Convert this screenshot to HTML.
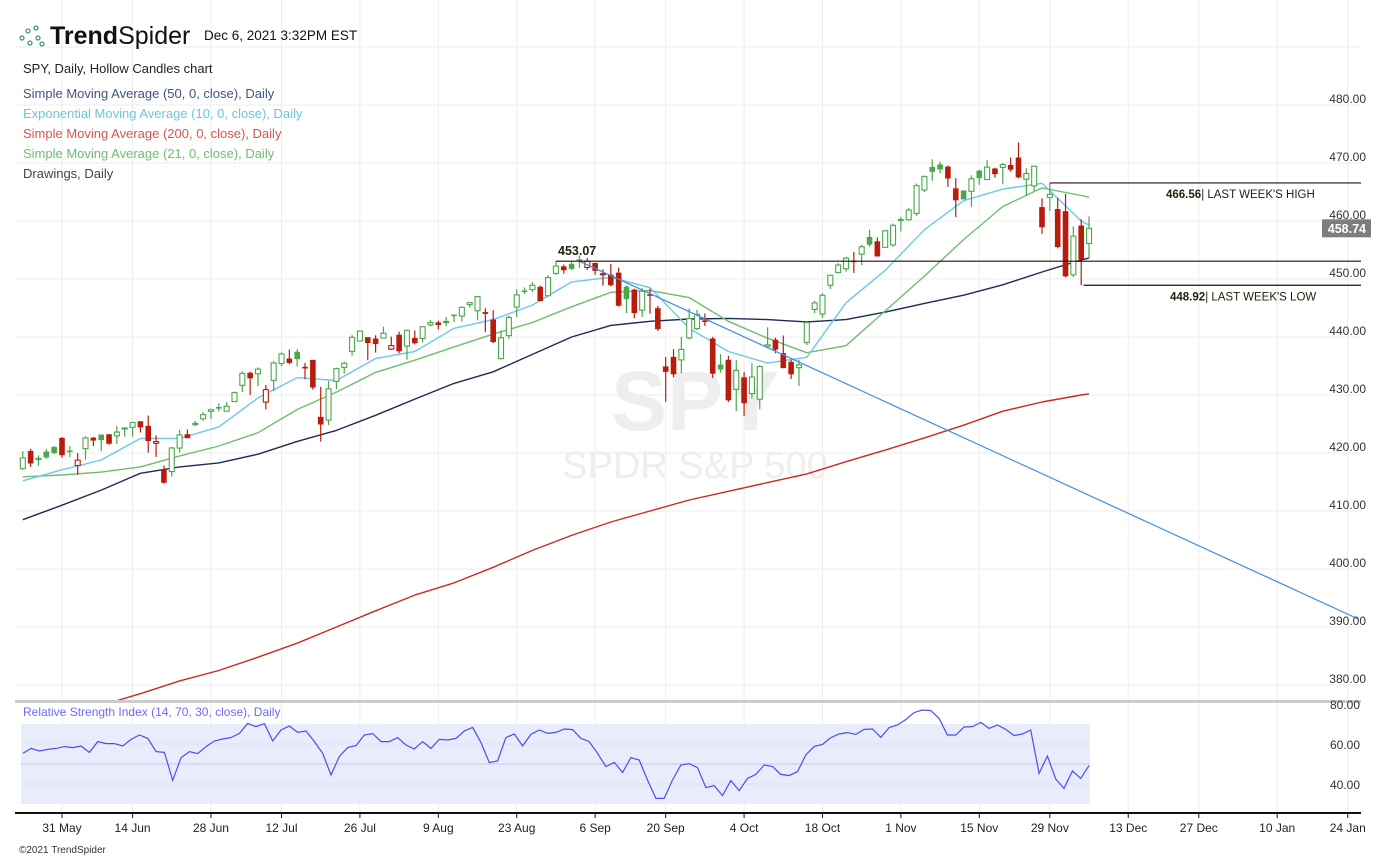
<!DOCTYPE html>
<html><head><meta charset="utf-8">
<style>
html,body{margin:0;padding:0;background:#fff;}
body{width:1391px;height:859px;overflow:hidden;font-family:"Liberation Sans",sans-serif;}
svg text{font-family:"Liberation Sans",sans-serif;}
</style></head>
<body>
<svg id="chart" width="1391" height="859" viewBox="0 0 1391 859" xmlns="http://www.w3.org/2000/svg">
<defs><clipPath id="pclip"><rect x="15" y="0" width="1346" height="700"/></clipPath></defs>
<g id="grid"></g>
<g>
<text x="695" y="430" text-anchor="middle" font-size="84" font-weight="bold" fill="#eeeeee">SPY</text>
<text x="695" y="478" text-anchor="middle" font-size="38" fill="#eeeeee">SPDR S&amp;P 500</text>
</g>
<g id="mas" clip-path="url(#pclip)"></g>
<g id="candles"></g>
<g id="drawings"></g>
<g id="rsi"></g>
<g id="axes"></g>
<g>
<g fill="none" stroke="#3a9a7a" stroke-width="1.3">
<circle cx="22" cy="38" r="2"/><circle cx="28" cy="31" r="2"/><circle cx="30" cy="43" r="2"/><circle cx="36" cy="28" r="2"/><circle cx="38" cy="38" r="2"/><circle cx="42" cy="44" r="2"/>
</g>
<text x="50" y="44" font-size="25" fill="#111"><tspan font-weight="bold">Trend</tspan>Spider</text>
<text x="204" y="40" font-size="13.5" fill="#111">Dec 6, 2021 3:32PM EST</text>
<text x="23" y="73" font-size="13" fill="#222">SPY, Daily, Hollow Candles chart</text>
<text x="23" y="98" font-size="13" fill="#3f5380">Simple Moving Average (50, 0, close), Daily</text>
<text x="23" y="118" font-size="13" fill="#6cc5e0">Exponential Moving Average (10, 0, close), Daily</text>
<text x="23" y="138" font-size="13" fill="#d9534f">Simple Moving Average (200, 0, close), Daily</text>
<text x="23" y="158" font-size="13" fill="#6cbf6c">Simple Moving Average (21, 0, close), Daily</text>
<text x="23" y="178" font-size="13" fill="#444">Drawings, Daily</text>
</g>
<text x="19" y="853" font-size="10" fill="#333">©2021 TrendSpider</text>
</svg>
<script>
const firstIdx = -5;
const opens = [417.3,420.3,418.9,420.2,420.97,422.57,420.37,417.85,420.75,422.59,423.11,423.18,422.96,424.2,424.43,425.42,424.63,421.67,417.09,416.8,420.85,423.19,424.89,425.9,427.17,427.88,427.21,428.87,431.67,433.78,433.66,428.78,432.53,435.43,436.24,437.4,434.81,436.01,426.19,425.68,432.34,434.74,437.52,439.31,439.91,439.68,439.82,437.91,440.34,438.44,439.78,439.74,442.1,442.46,442.61,443.82,443.62,445.59,444.53,444.24,442.96,436.27,440.23,445.16,447.97,448.17,448.61,447.12,450.97,452.13,452.56,453.32,451.98,452.71,450.89,450.7,451.04,448.64,448.12,444.62,447.32,444.92,434.88,436.53,436.05,439.85,441.44,442.81,439.69,435.19,436.02,430.98,433.0,430.24,429.27,438.39,439.48,437.16,435.67,434.71,439.08,444.75,443.97,448.92,451.13,451.77,453.13,454.28,457.2,456.45,455.46,455.87,460.3,460.22,461.3,465.36,469.28,469.7,469.32,465.58,465.21,465.12,468.64,467.15,469.0,469.24,469.61,470.89,467.22,466.06,462.34,464.07,462.0,461.64,450.73,459.17,456.13];
const highs = [420.3,420.7,419.6,420.7,421.25,422.72,421.23,419.99,422.92,422.78,423.21,423.26,424.63,424.43,425.37,425.46,426.46,423.02,417.83,421.06,424.0,424.05,425.55,427.09,427.65,428.56,428.78,430.6,434.1,434.01,434.76,431.73,435.84,437.35,437.84,437.92,435.53,436.06,431.41,432.42,434.7,435.72,440.3,441.03,439.94,440.3,441.8,440.06,440.93,441.28,441.12,441.85,442.94,442.8,443.44,443.88,445.26,445.94,447.11,444.96,444.63,441.14,443.71,448.23,448.54,449.46,448.86,450.65,453.07,452.49,453.11,454.05,453.63,452.81,451.67,452.57,451.96,448.92,448.34,448.41,448.36,445.37,436.56,437.91,440.03,444.89,444.67,444.05,440.04,437.04,436.77,436.03,433.96,435.49,435.12,441.68,439.89,440.26,436.1,436.05,442.66,446.26,447.55,450.71,452.73,453.83,454.67,455.9,458.49,457.16,458.4,459.56,460.7,462.23,466.46,467.82,470.65,470.23,469.57,467.38,465.29,467.86,468.81,470.49,469.19,470.01,470.94,473.54,469.1,469.57,463.9,466.56,464.03,464.67,459.07,460.3,460.79];
const lows = [417.1,417.6,417.8,418.99,419.79,419.2,419.29,416.28,418.84,421.19,420.32,421.41,421.55,422.82,422.82,423.54,420.06,419.32,414.7,415.93,420.08,422.51,424.62,425.55,425.89,427.13,427.18,428.8,430.52,430.01,431.51,427.52,430.71,434.97,435.31,434.91,432.72,430.92,421.97,424.83,431.01,433.69,436.79,439.26,435.99,437.31,439.81,437.77,437.21,436.1,438.73,439.06,441.8,441.31,441.88,442.62,442.66,445.07,442.87,440.85,438.92,436.12,439.71,443.44,447.42,447.77,446.16,447.06,450.71,450.92,451.55,451.91,451.55,450.74,448.86,448.72,445.24,444.11,443.22,443.44,444.02,441.02,428.86,433.07,433.75,439.6,441.21,441.9,432.94,433.85,428.78,427.23,426.36,429.39,427.54,438.2,437.19,434.62,432.78,431.54,438.58,444.09,443.27,448.27,451.01,451.31,451.05,452.39,455.56,453.86,455.45,455.56,458.2,460.08,460.83,464.99,466.92,468.2,465.88,460.66,463.75,462.46,466.23,467.07,467.48,466.34,468.5,467.35,464.45,465.19,457.77,461.73,455.3,450.29,450.31,448.92,453.56];
const closes = [419.17,418.24,419.07,419.29,420.04,419.67,420.33,418.77,422.6,422.19,422.28,421.65,423.61,424.31,425.26,424.48,422.11,421.97,414.92,420.86,423.11,422.6,425.1,426.61,427.47,427.7,428.06,430.43,433.72,432.93,434.46,430.92,435.52,437.08,435.59,436.24,434.75,431.34,424.97,431.06,434.55,435.46,439.94,441.02,439.01,438.83,440.65,438.51,437.59,441.15,438.98,441.76,442.49,442.13,442.68,443.78,445.11,445.92,446.97,444.04,439.18,439.86,443.36,447.26,447.97,448.91,446.26,450.25,452.23,451.56,451.8,453.19,453.08,451.46,450.91,448.98,445.44,446.58,444.17,447.88,447.17,441.4,434.04,433.63,437.86,443.18,443.91,442.64,433.72,434.45,429.14,434.24,428.64,433.1,434.9,438.66,437.86,434.69,433.62,435.18,442.5,445.87,447.19,450.64,452.41,453.59,453.12,455.55,455.96,453.94,458.32,459.25,460.04,461.9,466.09,467.69,468.53,468.93,467.38,463.62,463.77,467.27,467.43,469.28,468.14,469.73,468.89,467.57,468.19,469.44,458.97,464.6,455.56,450.5,457.4,453.42,458.74];

const maDays = [-5,0,5,10,15,20,25,30,35,40,45,50,55,60,65,70,75,80,85,90,95,100,105,110,115,120,125,130,131];
const sma50 = [408.5,411,413.6,416.5,417.6,418.3,419.8,422,423.9,426.5,429.3,432,434,437,440,442,442.7,443.1,443.2,443,442.6,443,444.3,445.8,447.2,449,451.2,453.3,453.6];
const ema10 = [415.2,417.1,418.8,422.5,422.5,424.5,429.5,433,432.5,436.3,437.5,441.5,443,445.5,449.5,450.3,448.5,441.5,437.5,435.5,436.5,445.9,451.5,458.5,463.5,465.5,466.5,460,459.3];
const sma21 = [415.9,416.2,416.7,417.6,419.5,421.2,423.5,427.5,430.5,433.9,436,438.3,440.5,442.5,445.2,447.7,448,446.8,442.7,439.8,437.3,438.5,444.5,450.5,456.8,462.5,465.7,464.4,464.1];
const sma200 = [372.5,374.5,376.5,378.5,380.7,382.5,384.8,387.2,390,392.8,395.5,397.6,400.3,403.2,405.8,408.1,410,411.9,413.4,414.9,416.4,418.5,420.5,422.6,424.8,427.2,428.8,430,430.2];

const rsiValues = [55.3,57.8,56.5,57.3,57.8,58.7,58.2,59,55.8,61.2,60.2,60.2,59,62.3,64.5,62.8,56.2,55.8,41.8,53.2,56.2,55.2,58.7,61.5,62.5,63.2,65.3,70.3,68.7,70.2,61.5,67,69,65.8,66.5,61.2,55.3,44.5,53.7,58.2,59.2,64.5,65.2,61.2,61.2,63.2,59.5,57.5,61.2,57.8,62.3,62,62.8,66.5,68.3,60.8,50.7,51.5,63.2,65,59,64.8,67,65.3,65.8,67.5,67.2,62.8,61.2,55.3,48.7,50.8,45.8,53.2,52,42,32.8,32.8,42,49.5,50.2,48.2,38.2,39.2,34.2,41.7,36.7,42.8,44.8,49.5,48.8,44.8,44.2,46.2,54.5,58.7,59.8,63.2,65,65.7,64.8,67.3,67.5,63.3,68.2,69.5,72.2,75.7,77,76.7,72.8,64.5,64.5,68.5,68.7,70.8,67.8,69.5,67.3,64.2,65,67,45.3,54,42.5,37.8,46.5,42.8,49.2];

const priceTicks = [490,480,470,460,450,440,430,420,410,400,390,380];
const rsiTicks = [80,60,40];
const dateLabels = ["31 May","14 Jun","28 Jun","12 Jul","26 Jul","9 Aug","23 Aug","6 Sep","20 Sep","4 Oct","18 Oct","1 Nov","15 Nov","29 Nov","13 Dec","27 Dec","10 Jan","24 Jan"];
const dateIdx = [0,9,19,28,38,48,58,68,77,87,97,107,117,126,136,145,155,164];

const levelHigh = 466.56, levelLow = 448.92, levelTop = 453.07;
const lastPrice = 458.74;
const trendStart = [66, 453.07], trendEnd = [165.3, 391.4];

const X = i => 62 + i*7.84;
const Y = p => 163 + (470 - p)*5.8;
const RY = v => 764 - (v - 50)*2;
const NS = "http://www.w3.org/2000/svg";
function mk(tag, attrs, parent){const e=document.createElementNS(NS,tag);for(const k in attrs)e.setAttribute(k,attrs[k]);parent.appendChild(e);return e;}

const grid = document.getElementById('grid');
priceTicks.forEach(p=>{
  const l = mk('line',{x1:15,x2:1361,y1:Y(p),y2:Y(p),stroke:'#ececec','stroke-width':1},grid);
  
  
});
dateIdx.forEach(i=>{
  const l = mk('line',{x1:X(i),x2:X(i),y1:0,y2:813,stroke:'#ececec','stroke-width':1},grid);
  
  
});

const mas = document.getElementById('mas');
[[sma200,'#cc2a22','sma200-line'],[sma50,'#1d2b55','sma50-line'],[sma21,'#6cbf6c','sma21-line'],[ema10,'#6cc8ea','ema10-line']].forEach(([arr,col,name])=>{
  const d = arr.map((v,k)=>(k?'L':'M')+X(maDays[k]).toFixed(1)+','+Y(v).toFixed(1)).join(' ');
  const p = mk('path',{d:d,fill:'none',stroke:col,'stroke-width':1.4,'stroke-linejoin':'round'},mas);
  
  
});

const cg = document.getElementById('candles');
closes.forEach((c,k)=>{
  const i = firstIdx + k, o = opens[k], h = highs[k], lo = lows[k];
  const prev = k ? closes[k-1] : o;
  const col = c >= prev ? '#4aa84a' : '#b81c0c';
  const x = X(i);
  const g = mk('g',{},cg);
  
  
  const top = Y(Math.max(o,c)), bot = Y(Math.min(o,c));
  mk('line',{x1:x,x2:x,y1:Y(h),y2:top,stroke:col,'stroke-width':1.2},g);
  mk('line',{x1:x,x2:x,y1:bot,y2:Y(lo),stroke:col,'stroke-width':1.2},g);
  const hollow = c > o;
  mk('rect',{x:x-2.5,y:top,width:5,height:Math.max(1,bot-top),fill:hollow?'#fff':col,stroke:col,'stroke-width':hollow?1.1:0.6},g);
});

const dg = document.getElementById('drawings');
const tl = mk('line',{x1:X(trendStart[0]),y1:Y(trendStart[1]),x2:X(trendEnd[0]),y2:Y(trendEnd[1]),stroke:'#3d8fe8','stroke-width':1.2},dg);


[[levelTop,X(63)],[levelHigh,X(126)],[levelLow,X(130.3)]].forEach(([v,x1])=>{
  const l = mk('line',{x1:x1,x2:1361,y1:Y(v),y2:Y(v),stroke:'#2a0a0a','stroke-width':1.2},dg);
  
  
});
let t = mk('text',{x:558,y:Y(levelTop)-6,'font-size':12.5,'font-weight':'bold',fill:'#221'},dg);
t.textContent = levelTop.toFixed(2);


t = mk('text',{x:1166,y:Y(levelHigh)+15,'font-size':11.5,fill:'#221'},dg);
t.innerHTML = '<tspan font-weight="bold">'+levelHigh.toFixed(2)+'</tspan>| LAST WEEK\'S HIGH';


t = mk('text',{x:1170,y:Y(levelLow)+15,'font-size':11.5,fill:'#221'},dg);
t.innerHTML = '<tspan font-weight="bold">'+levelLow.toFixed(2)+'</tspan>| LAST WEEK\'S LOW';



const rg = document.getElementById('rsi');
mk('rect',{x:15,y:700,width:1346,height:3,fill:'#cccccc'},rg);
const band = mk('rect',{x:21,y:RY(70),width:1069,height:RY(30)-RY(70),fill:'#e9ecfb'},rg);


[60,40].forEach(v=>mk('line',{x1:21,x2:1090,y1:RY(v),y2:RY(v),stroke:'#dde0f2','stroke-width':1},rg));
mk('line',{x1:21,x2:1090,y1:RY(50),y2:RY(50),stroke:'#c9c6ec','stroke-width':1},rg);
t = mk('text',{x:23,y:716,'font-size':12,fill:'#6b6bf5'},rg);
t.textContent = 'Relative Strength Index (14, 70, 30, close), Daily';


const n = rsiValues.length, i0 = firstIdx, i1 = 131;
const rd = rsiValues.map((v,k)=>(k?'L':'M')+X(i0+(i1-i0)*k/(n-1)).toFixed(1)+','+RY(v).toFixed(1)).join(' ');
const rp = mk('path',{d:rd,fill:'none',stroke:'#4a4ef0','stroke-width':1.2},rg);



const ax = document.getElementById('axes');
mk('line',{x1:15,x2:1361,y1:813,y2:813,stroke:'#111','stroke-width':2},ax);
priceTicks.slice(1).forEach(p=>{
  const tt = mk('text',{x:1366,y:Y(p)-2,'font-size':12,'text-anchor':'end',fill:'#333'},ax);
  tt.textContent = p.toFixed(2);
  
  
});
rsiTicks.forEach(v=>{
  const tt = mk('text',{x:1360,y:RY(v)+5,'font-size':12,'text-anchor':'end',fill:'#333'},ax);
  tt.textContent = v.toFixed(2);
  
  
});
dateLabels.forEach((s,k)=>{
  const x = X(dateIdx[k]);
  mk('line',{x1:x,x2:x,y1:813,y2:818,stroke:'#111','stroke-width':1},ax);
  const tt = mk('text',{x:x,y:832,'font-size':12,'text-anchor':'middle',fill:'#222'},ax);
  tt.textContent = s;
  
  
});
const box = mk('rect',{x:1322,y:Y(lastPrice)-9,width:49,height:18,fill:'#7d7d7d'},ax);


t = mk('text',{x:1366,y:Y(lastPrice)+4.5,'font-size':12.5,'font-weight':'bold','text-anchor':'end',fill:'#fff'},ax);
t.textContent = lastPrice.toFixed(2);


</script>
</body></html>
